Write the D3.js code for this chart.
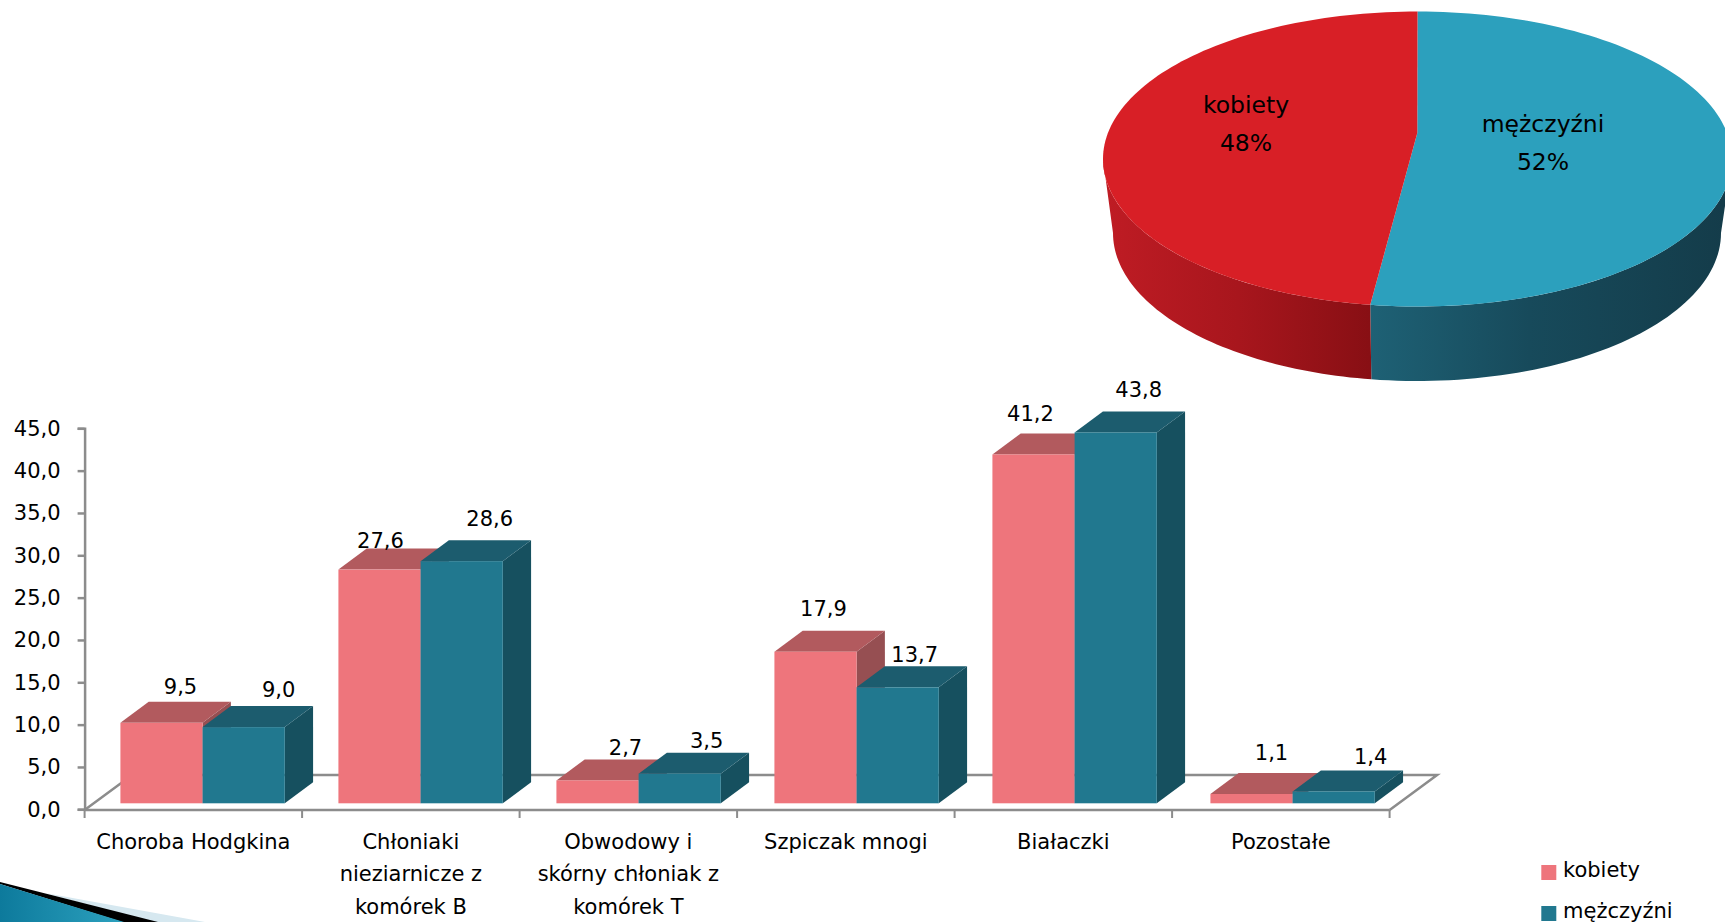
<!DOCTYPE html>
<html><head><meta charset="utf-8">
<script src="https://cdn.jsdelivr.net/npm/d3@7"></script>
<style>html,body{margin:0;background:#fff;overflow:hidden}svg{display:block}text{font-family:"DejaVu Sans",sans-serif;fill:#000}</style>
</head><body><svg id="c" width="1725" height="922"></svg>
<script>
const categories = ["Choroba Hodgkina","Chłoniaki nieziarnicze z komórek B","Obwodowy i skórny chłoniak z komórek T","Szpiczak mnogi","Białaczki","Pozostałe"];
const categoryLines = [["Choroba Hodgkina"],["Chłoniaki","nieziarnicze z","komórek B"],["Obwodowy i","skórny chłoniak z","komórek T"],["Szpiczak mnogi"],["Białaczki"],["Pozostałe"]];
const seriesNames = ["kobiety","mężczyźni"];
const kobiety = [9.5,27.6,2.7,17.9,41.2,1.1];
const mezczyzni = [9.0,28.6,3.5,13.7,43.8,1.4];
const yTicks = [0,5,10,15,20,25,30,35,40,45];
const pieNames = ["mężczyźni","kobiety"];
const pieValues = [52.4,47.6];

const svg = d3.select("#c");
const FS = 21, PFS = 23.5;
const comma = d3.formatLocale({decimal:",",thousands:" ",grouping:[3],currency:["",""]});
const fmt = comma.format(".1f");

/* ---------- decoration ---------- */
const defs = svg.append("defs");
function grad(id,stops,x1,x2){
  const g = defs.append("linearGradient").attr("id",id).attr("gradientUnits","userSpaceOnUse")
    .attr("x1",x1).attr("x2",x2).attr("y1",0).attr("y2",0);
  stops.forEach(s=>g.append("stop").attr("offset",s[0]).attr("stop-color",s[1]));
}
grad("cornerG",[[0,"#0d7a9c"],[1,"#2ea3c0"]],0,130);
grad("sideRed",[[0,"#bf1c24"],[.5,"#a8161d"],[1,"#880f14"]],1105,1370);
grad("sideTeal",[[0,"#1e6175"],[.45,"#174a5b"],[1,"#143c4a"]],1370,1724);
const poly = d3.line();
svg.append("path").attr("d",poly([[45,893],[205,922],[150,922]])+"Z").attr("fill","#d6e8f0");
svg.append("path").attr("d",poly([[0,882],[158,922],[122,922],[0,884]])+"Z").attr("fill","#000");
svg.append("path").attr("d",poly([[0,884],[124,922],[0,922]])+"Z").attr("fill","url(#cornerG)");

/* ---------- pie ---------- */
const top_ = {cx:1417.5,cy:159,rx:314.5,ry:147.5}, low = {cx:1417,cy:233,rx:304,ry:148};
const apex = [1417.3,133];
const pt = (e,t)=>[e.cx+e.rx*Math.sin(t), e.cy-e.ry*Math.cos(t)];
const arcs = d3.pie().sort(null)(pieValues);
const pieColors = ["#2ca0bd","#d81f26"];
const sideFill = ["url(#sideTeal)","url(#sideRed)"];
const pieLabelAt = [[1543,132],[1246,113]];
const pieG = svg.append("g");
arcs.forEach((a,i)=>{
  const s = Math.max(a.startAngle,Math.PI/2), e = Math.min(a.endAngle,Math.PI*1.5);
  const ts = d3.range(0,61).map(k=>s+(e-s)*k/60);
  const pts = ts.map(t=>pt(top_,t)).concat(ts.slice().reverse().map(t=>pt(low,t)));
  pieG.append("path").attr("d",poly(pts)+"Z").attr("fill",sideFill[i]);
});
arcs.forEach((a,i)=>{
  const ts = d3.range(0,121).map(k=>a.startAngle+(a.endAngle-a.startAngle)*k/120);
  pieG.append("path").attr("d",poly([apex].concat(ts.map(t=>pt(top_,t))))+"Z").attr("fill",pieColors[i]);
  const [lx,ly] = pieLabelAt[i];
  const tx = pieG.append("text").attr("text-anchor","middle").attr("font-size",PFS);
  tx.append("tspan").attr("x",lx).attr("y",ly).text(pieNames[i]);
  tx.append("tspan").attr("x",lx).attr("y",ly+37.5).text(d3.format(".0f")(pieValues[i])+"%");
});

/* ---------- bars ---------- */
const y = d3.scaleLinear().domain([0,45]).range([809.3,428.3]);
const x0 = d3.scaleBand().domain(categories).range([84.6,1389.6]);
const xB = d3.scaleBand().domain(categories).range([93.6,1401.6]).paddingInner(.246).paddingOuter(.123);
const xS = d3.scaleBand().domain(seriesNames).range([0,xB.bandwidth()]);
const lift = 6, dX = 28.3, dY = 21;
const AX = "#8c8c8c";
const floorDX = 47.5, floorDY = 35, fy = 810;
const chart = svg.append("g");
// floor
chart.append("path").attr("fill","none").attr("stroke",AX).attr("stroke-width",2.5)
  .attr("d",poly([[84.6,fy],[84.6+floorDX,fy-floorDY],[1389.6+floorDX,fy-floorDY],[1389.6,fy]]));
chart.append("line").attr("x1",84.6).attr("x2",1389.6).attr("y1",fy).attr("y2",fy).attr("stroke",AX).attr("stroke-width",2.5);
// y axis
const yAxis = d3.axisLeft(y).tickValues(yTicks).tickFormat(fmt).tickSize(7).tickPadding(17);
const gy = chart.append("g").attr("transform","translate(84.6,0)").call(yAxis);
gy.selectAll("path,line").attr("stroke",AX).attr("stroke-width",2.5);
gy.selectAll("text").attr("font-size",FS);
gy.attr("font-family",null);
// x axis ticks at band edges
const edges = categories.map(c=>x0(c)).concat(x0.range()[1]);
chart.selectAll(".xt").data(edges).join("line").attr("x1",d=>d).attr("x2",d=>d).attr("y1",fy).attr("y2",fy+8).attr("stroke",AX).attr("stroke-width",2);
// labels
categories.forEach((c,i)=>{
  const t = chart.append("text").attr("text-anchor","middle").attr("font-size",FS);
  categoryLines[i].forEach((l,j)=>t.append("tspan").attr("x",x0(c)+x0.bandwidth()/2).attr("y",848.5+j*32.6).text(l));
});
const fillsF = ["#ee757c","#21788f"], fillsT = ["#b25a5e","#1c5c6e"], fillsS = ["#964f52","#16505f"];
const series = [kobiety,mezczyzni];
const nudgeX = [[19,1,28,8,-3,20],[35,28,27,17,23,37]];
const nudgeY = [[-36,-29,-33,-43,-41,-42],[-38,-43,-33,-33,-43,-35]];
categories.forEach((c,i)=>{
  seriesNames.forEach((s,k)=>{
    const v = series[k][i];
    const xl = xB(c)+xS(s), xr = xl+xS.bandwidth(), b = y(0)-lift, t = y(v)-lift;
    chart.append("path").attr("fill",fillsS[k]).attr("d",poly([[xr,b],[xr+dX,b-dY],[xr+dX,t-dY],[xr,t]])+"Z");
    chart.append("path").attr("fill",fillsT[k]).attr("d",poly([[xl,t],[xl+dX,t-dY],[xr+dX,t-dY],[xr,t]])+"Z");
    chart.append("rect").attr("fill",fillsF[k]).attr("x",xl).attr("y",t).attr("width",xr-xl).attr("height",b-t);
  });
});
categories.forEach((c,i)=>{
  seriesNames.forEach((s,k)=>{
    const v = series[k][i];
    chart.append("text").attr("text-anchor","middle").attr("font-size",FS).attr("dy","0.36em")
      .attr("x",xB(c)+xS(s)+xS.bandwidth()/2+nudgeX[k][i]).attr("y",y(v)-lift+nudgeY[k][i]).text(fmt(v));
  });
});

/* ---------- legend ---------- */
const lg = d3.scaleOrdinal().domain(seriesNames).range([865,906]);
seriesNames.forEach((s,k)=>{
  svg.append("rect").attr("x",1541.3).attr("y",lg(s)).attr("width",15).attr("height",15).attr("fill",fillsF[k]);
  svg.append("text").attr("x",1563).attr("y",lg(s)+12).attr("font-size",FS).text(s);
});
</script></body></html>
